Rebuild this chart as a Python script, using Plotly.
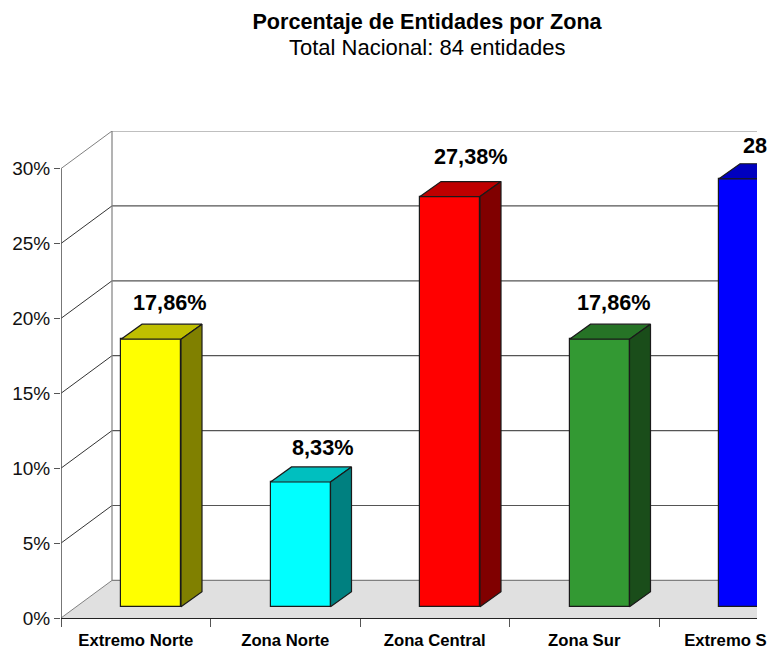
import plotly.graph_objects as go

categories = ["Extremo Norte", "Zona Norte", "Zona Central", "Zona Sur", "Extremo Sur"]
values = [17.86, 8.33, 27.38, 17.86, 28.57]
labels = ["17,86%", "8,33%", "27,38%", "17,86%", "28,57%"]
y_ticks = [0, 5, 10, 15, 20, 25, 30]
y_tick_labels = ["0%", "5%", "10%", "15%", "20%", "25%", "30%"]

front_colors = ["#FFFF00", "#00FFFF", "#FF0000", "#339933", "#0000FF"]
top_colors = ["#BFBF00", "#00BFBF", "#BF0000", "#267326", "#0000BF"]
side_colors = ["#808000", "#008080", "#800000", "#1A4D1A", "#000080"]

# label nudges relative to the bar centre (manual placement in the original)
label_dx = [0.125, 0.152, 0.14, 0.10, 0.205]
label_dy = [3.17, 3.05, 3.41, 3.17, 2.95]

FONT = "Liberation Sans, Arial, sans-serif"
PX_X, PX_Y = 149.5, 14.95
WALL_DX, WALL_DY = 51 / PX_X, 37.5 / PX_Y
BASE_DX, BASE_DY = 15 / PX_X, 11.2 / PX_Y
BAR_W = 60 / PX_X
DEPTH_DX, DEPTH_DY = 21 / PX_X, 15 / PX_Y
X_MAX = (757 - 61) / PX_X
Y_MAX = 30 + WALL_DY
EDGE = "#1a1a1a"
WALL = "#808080"

shapes = []
shapes.append(dict(type="path", layer="below", xref="x", yref="y",
                   path=f"M0,0 L{WALL_DX},{WALL_DY} L{X_MAX},{WALL_DY} L{X_MAX},0 Z",
                   fillcolor="#E0E0E0", line=dict(width=0)))
for t in y_ticks:
    col = WALL if t in (0, 30) else "#333333"
    wcol = WALL if t in (0, 30) else "#555555"
    shapes.append(dict(type="line", layer="below", xref="x", yref="y", x0=0, y0=t,
                       x1=WALL_DX, y1=t + WALL_DY, line=dict(color=col, width=1)))
    shapes.append(dict(type="line", layer="below", xref="x", yref="y", x0=WALL_DX, y0=t + WALL_DY,
                       x1=X_MAX, y1=t + WALL_DY, line=dict(color=wcol, width=1.2)))
shapes.append(dict(type="line", layer="below", xref="x", yref="y", x0=WALL_DX, y0=WALL_DY,
                   x1=WALL_DX, y1=30 + WALL_DY, line=dict(color=WALL, width=1.2)))

fig = go.Figure()

# y axis line, only as far as the 30% tick
fig.add_trace(go.Scatter(x=[0, 0], y=[y_ticks[0], y_ticks[-1]], mode="lines", cliponaxis=False,
                         line=dict(color="#555555", width=1.6), hoverinfo="skip", showlegend=False))

lefts = [i + (60 / PX_X) for i in range(len(values))]
centers = [l + BAR_W / 2 for l in lefts]

fig.add_trace(go.Bar(x=centers, y=values, base=BASE_DY, width=BAR_W, marker=dict(color=front_colors,
                     line=dict(color=EDGE, width=1.2)), showlegend=False, hoverinfo="skip"))

for l, v, top, side in zip(lefts, values, top_colors, side_colors):
    r = l + BAR_W
    t = v + BASE_DY
    fig.add_trace(go.Scatter(x=[l, r, r + DEPTH_DX, l + DEPTH_DX, l], y=[t, t, t + DEPTH_DY, t + DEPTH_DY, t],
                             mode="lines", fill="toself", fillcolor=top, line=dict(color=EDGE, width=1.2),
                             hoverinfo="skip", showlegend=False))
    fig.add_trace(go.Scatter(x=[r, r + DEPTH_DX, r + DEPTH_DX, r, r],
                             y=[t, t + DEPTH_DY, BASE_DY + DEPTH_DY, BASE_DY, t],
                             mode="lines", fill="toself", fillcolor=side, line=dict(color=EDGE, width=1.2),
                             hoverinfo="skip", showlegend=False))

value_annotations = [
    dict(text=f"<b>{txt}</b>", xref="paper", yref="paper", showarrow=False,
         x=(c + dx) / X_MAX, y=(v + dy) / Y_MAX, xanchor="center", yanchor="middle",
         font=dict(family=FONT, size=21.7, color="#000000"))
    for txt, c, v, dx, dy in zip(labels, centers, values, label_dx, label_dy)
]

fig.update_layout(
    width=767, height=647, paper_bgcolor="#FFFFFF", plot_bgcolor="rgba(0,0,0,0)",
    margin=dict(l=61, r=10, t=131, b=29, pad=0), showlegend=False, shapes=shapes, bargap=0,
    font=dict(family=FONT, color="#000000"),
    title=dict(text="<b>Porcentaje de Entidades por Zona</b>", x=427 / 767, xanchor="center",
               y=1 - 21 / 647, yanchor="middle", font=dict(family=FONT, size=21.6, color="#000000")),
    annotations=[dict(text="Total Nacional: 84 entidades", xref="paper", yref="paper", showarrow=False,
                      x=(427 - 61) / 696, xanchor="center", y=(618 - 47) / 487, yanchor="middle",
                      font=dict(family=FONT, size=22, color="#000000"))] + value_annotations,
    xaxis=dict(range=[0, X_MAX], tickmode="array", tickvals=[i + 0.5 for i in range(len(categories))],
               ticktext=[f"<b>{c}</b>" for c in categories], ticks="", ticklabelstandoff=7,
               ticklabeloverflow="allow",
               tickfont=dict(family=FONT, size=16.7, color="#000000"), showgrid=False, zeroline=False,
               showline=True, linecolor="#222222", linewidth=1, automargin=False,
               minor=dict(tickmode="linear", tick0=0, dtick=1, ticks="outside", ticklen=8,
                          tickcolor="#555555", tickwidth=1, showgrid=False)),
    yaxis=dict(range=[0, Y_MAX], tickmode="array", tickvals=y_ticks, ticktext=y_tick_labels, ticks="outside",
               ticklen=6, tickcolor="#555555", tickwidth=1, showgrid=False, zeroline=False, showline=False,
               tickfont=dict(family=FONT, size=19, color="#111111"), automargin=False),
)

fig.write_html("out.html", config={"displayModeBar": False},
               post_script="document.body.style.margin='0';document.body.style.overflow='hidden';window.dispatchEvent(new Event('resize'));")
